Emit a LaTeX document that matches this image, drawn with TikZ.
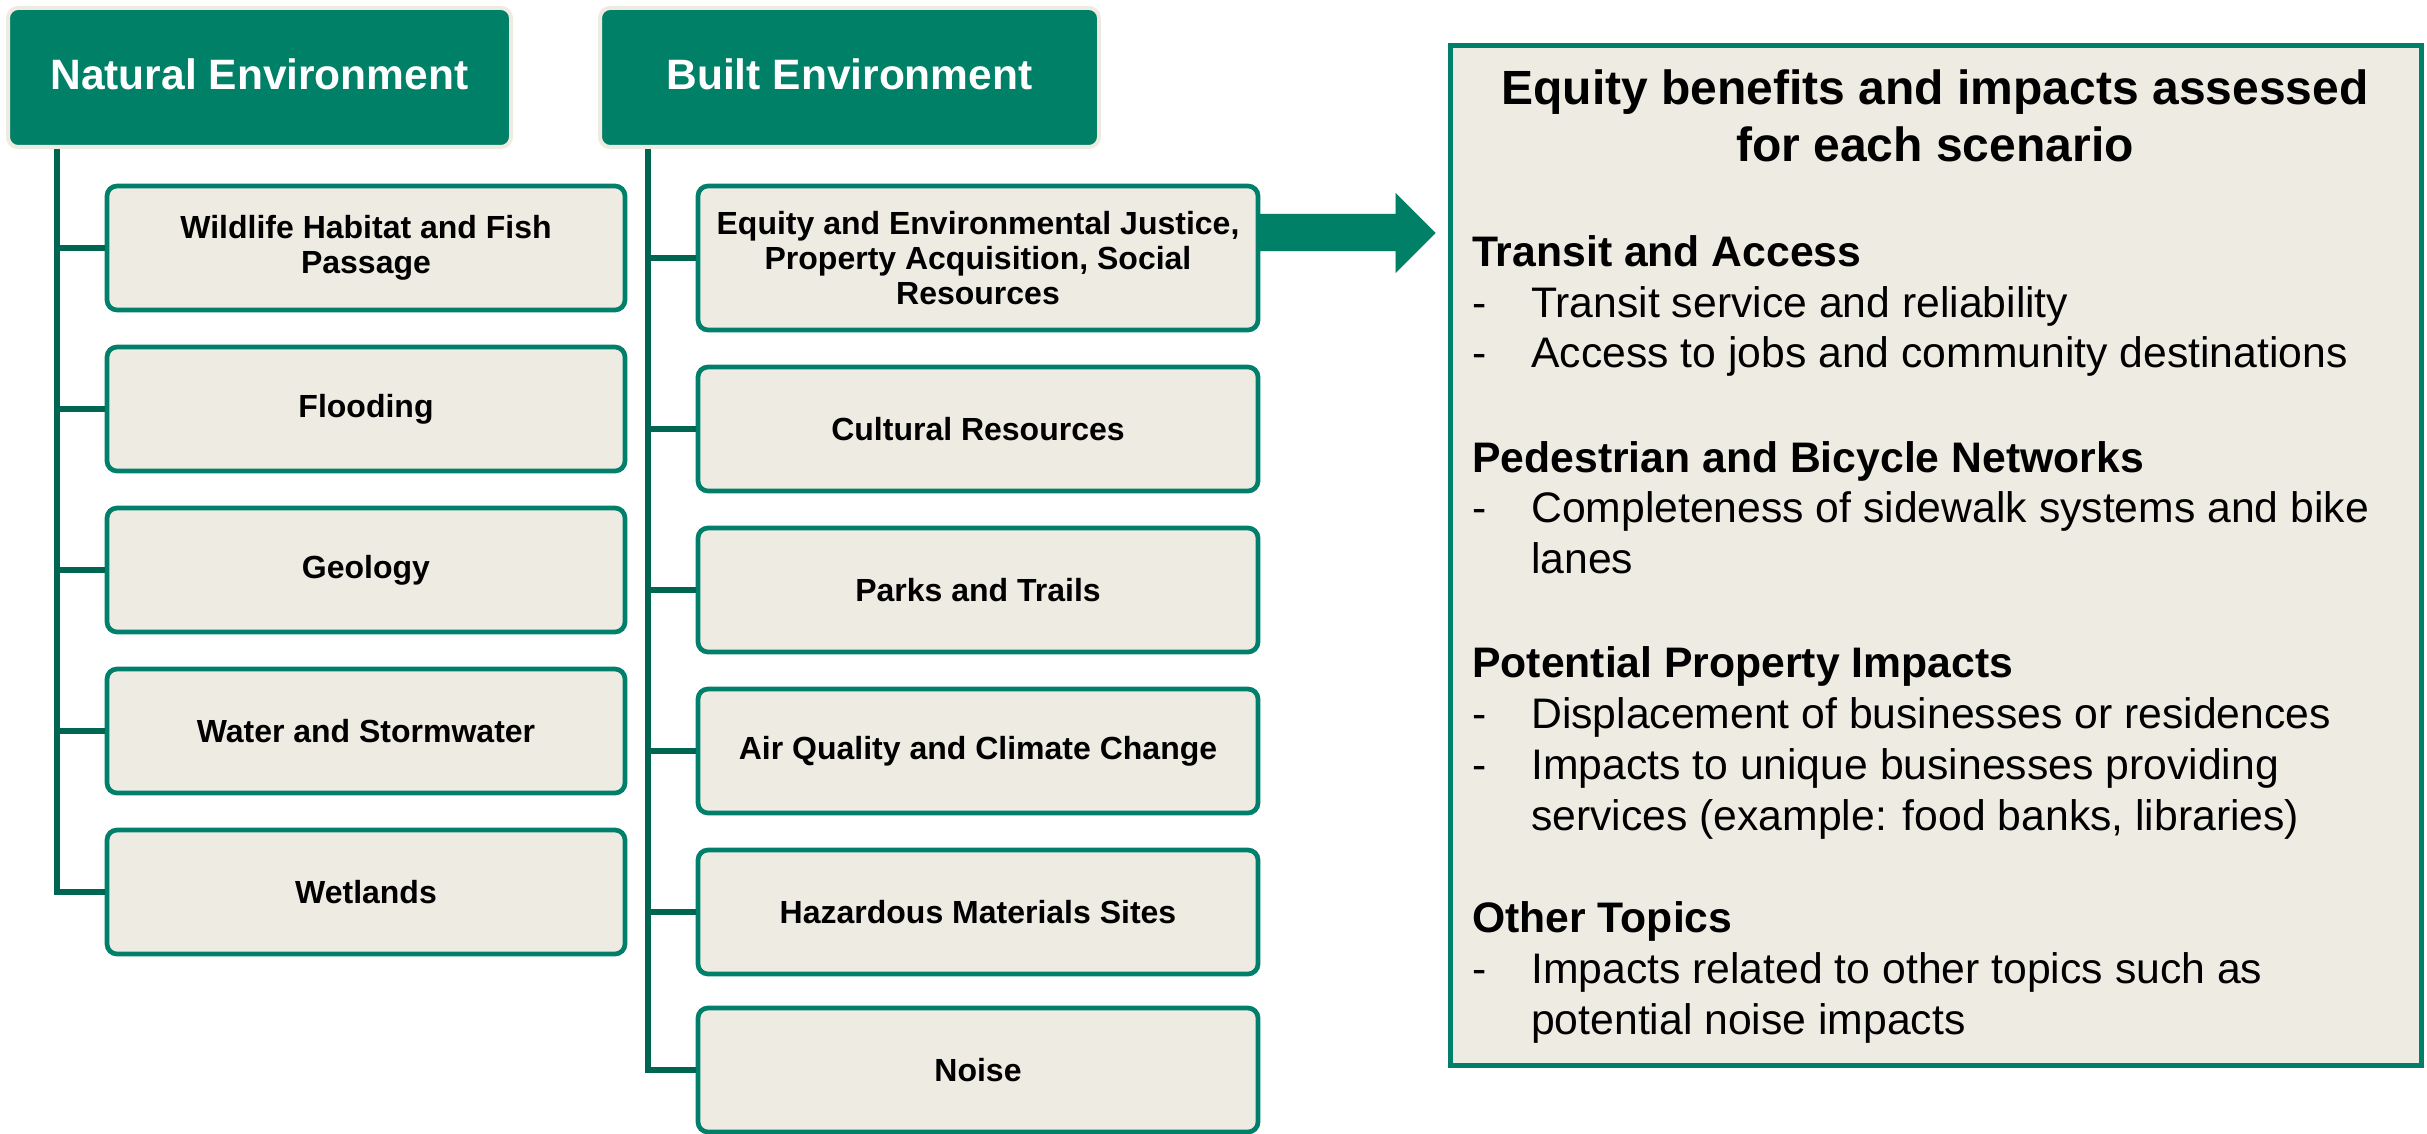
\documentclass[tikz,border=0pt]{standalone}
\usepackage{fontspec}
\setmainfont{Liberation Sans}
\usetikzlibrary{calc}
\definecolor{hgreen}{RGB}{0,128,102}
\definecolor{bgreen}{RGB}{0,128,106}
\definecolor{tgreen}{RGB}{0,102,82}
\definecolor{cream}{RGB}{238,235,227}
\begin{document}
\begin{tikzpicture}[x=1pt,y=-1pt,
  header/.style={rectangle, rounded corners=10pt, fill=hgreen, draw=cream, line width=4pt,
    text=white, font=\bfseries\fontsize{42.5}{46}\selectfont, minimum height=139pt, inner sep=0pt,
    text height=31pt, text depth=6pt},
  item/.style={rectangle, rounded corners=10pt, fill=cream, draw=bgreen, line width=4.7pt,
    font=\bfseries\fontsize{32}{35}\selectfont, align=center, inner sep=0pt, minimum height=124pt},
  natitem/.style={item, minimum width=518pt},
  builtitem/.style={item, minimum width=560pt},
  trunk/.style={draw=tgreen, line width=5.5pt},
  bigbox/.style={rectangle, fill=cream, draw=bgreen, line width=5pt, minimum width=971pt, minimum height=1019pt, inner sep=0pt},
  ttl/.style={anchor=base, inner sep=0pt, font=\bfseries\fontsize{48}{52}\selectfont},
  hd/.style={anchor=base west, inner sep=0pt, font=\bfseries\fontsize{42.7}{50}\selectfont},
  bl/.style={anchor=base west, inner sep=0pt, font=\fontsize{42.7}{50}\selectfont},
  arrowc/.style={fill=hgreen}
]
\useasboundingbox (0,0) rectangle (2427,1134);

% headers
\node[header, minimum width=503pt] (nat) at (259.5,77.5) {Natural Environment};
\node[header, minimum width=499pt] (blt) at (849.5,77.5) {Built Environment};

% natural children
\node[natitem] (wild) at (366,248) {Wildlife Habitat and Fish\\Passage};
\node[natitem] (flood) at (366,409) {Flooding};
\node[natitem] (geo) at (366,570) {Geology};
\node[natitem] (water) at (366,731) {Water and Stormwater};
\node[natitem] (wet) at (366,892) {Wetlands};

% built children
\node[builtitem, minimum height=144pt] (eq) at (978,258) {Equity and Environmental Justice,\\Property Acquisition, Social\\Resources};
\node[builtitem] (cult) at (978,429) {Cultural Resources};
\node[builtitem] (parks) at (978,590) {Parks and Trails};
\node[builtitem] (air) at (978,751) {Air Quality and Climate Change};
\node[builtitem] (haz) at (978,912) {Hazardous Materials Sites};
\node[builtitem] (noise) at (978,1070) {Noise};

% trunks
\coordinate (nt) at (57,149);
\coordinate (bt) at (648,149);
\draw[trunk] (nt) |- (wet.west);
\foreach \n in {wild,flood,geo,water} \draw[trunk] (\n.west) -- (\n.west -| nt);
\draw[trunk] (bt) |- (noise.west);
\foreach \n in {eq,cult,parks,air,haz} \draw[trunk] (\n.west) -- (\n.west -| bt);

% right box
\node[bigbox] (rb) at (1935.5,555.5) {};
\node[ttl] (t1) at (1935,105) {Equity benefits and impacts assessed};
\node[ttl] (t2) at (1935,162) {for each scenario};

\node[hd] (h1) at (1472,266) {Transit and Access};
\node[bl] (d11) at (1472,317) {-};
\node[bl] (b11) at (1531,317) {Transit service and reliability};
\node[bl] (d12) at (1472,367) {-};
\node[bl] (b12) at (1531,367) {Access to jobs and community destinations};

\node[hd] (h2) at (1472,472) {Pedestrian and Bicycle Networks};
\node[bl] (d21) at (1472,522) {-};
\node[bl] (b21) at (1531,522) {Completeness of sidewalk systems and bike};
\node[bl] (b22) at (1531,573) {lanes};

\node[hd] (h3) at (1472,677) {Potential Property Impacts};
\node[bl] (d31) at (1472,728) {-};
\node[bl] (b31) at (1531,728) {Displacement of businesses or residences};
\node[bl] (d32) at (1472,779) {-};
\node[bl] (b32) at (1531,779) {Impacts to unique businesses providing};
\node[bl] (b33) at (1531,830) {services (example: food banks, libraries)};

\node[hd] (h4) at (1472,932) {Other Topics};
\node[bl] (d41) at (1472,983) {-};
\node[bl] (b41) at (1531,983) {Impacts related to other topics such as};
\node[bl] (b42) at (1531,1034) {potential noise impacts};

% arrow from equity box to right box
\coordinate (at) at ($(rb.west |- eq.east)+(-12,-25)$);
\begin{scope}[shift={(3,6)}]
\fill[black, opacity=0.18] ($(eq.east)+(-2,-44)$) -- ($(at)+(-40,-19)$) -- ($(at)+(-40,-40)$) -- (at) -- ($(at)+(-40,40)$) -- ($(at)+(-40,18)$) -- ($(eq.east)+(-2,-7)$) -- cycle;
\end{scope}
\fill[arrowc] ($(eq.east)+(-2,-44)$) -- ($(at)+(-40,-19)$) -- ($(at)+(-40,-40)$) -- (at) -- ($(at)+(-40,40)$) -- ($(at)+(-40,18)$) -- ($(eq.east)+(-2,-7)$) -- cycle;
\end{tikzpicture}
\end{document}
